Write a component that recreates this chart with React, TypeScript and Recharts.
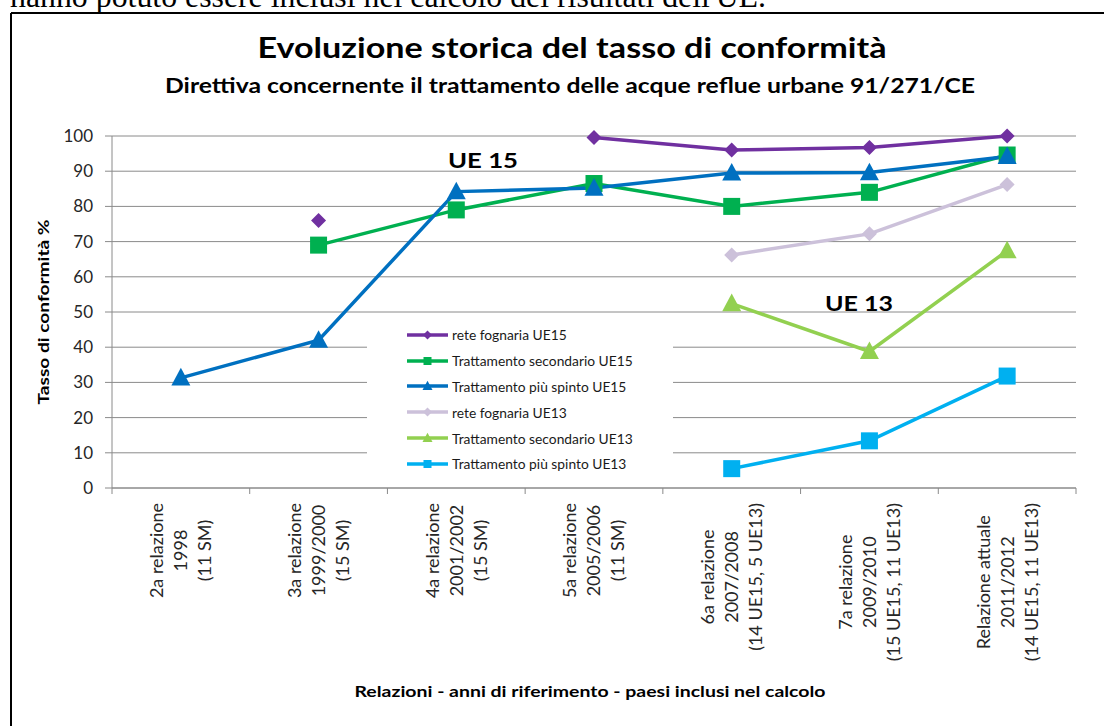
import React from 'react';
import { LineChart, Line, XAxis, YAxis, CartesianGrid, Legend } from 'recharts';

// ---------- data ----------
const categories: string[][] = [
  ['2a relazione', '1998', '(11 SM)'],
  ['3a relazione', '1999/2000', '(15 SM)'],
  ['4a relazione', '2001/2002', '(15 SM)'],
  ['5a relazione', '2005/2006', '(11 SM)'],
  ['6a relazione', '2007/2008', '(14 UE15, 5 UE13)'],
  ['7a relazione', '2009/2010', '(15 UE15, 11 UE13)'],
  ['Relazione attuale', '2011/2012', '(14 UE15, 11 UE13)'],
];

const reteFognariaUE15 = [null, 76, null, 99.6, 96, 96.7, 100];
const trattSecondarioUE15 = [null, 69, 79, 86.5, 80, 84, 94.6];
const trattSpintoUE15 = [31.3, 42, 84.2, 85.2, 89.5, 89.6, 94.2];
const reteFognariaUE13 = [null, null, null, null, 66.2, 72.2, 86.2];
const trattSecondarioUE13 = [null, null, null, null, 52.4, 38.8, 67.4];
const trattSpintoUE13 = [null, null, null, null, 5.5, 13.4, 31.8];

const yTicks = [0, 10, 20, 30, 40, 50, 60, 70, 80, 90, 100];

const seriesNames = [
  'rete fognaria UE15',
  'Trattamento secondario UE15',
  'Trattamento più spinto UE15',
  'rete fognaria UE13',
  'Trattamento secondario UE13',
  'Trattamento più spinto UE13',
];

const titleText = 'Evoluzione storica del tasso di conformità';
const subtitleText = 'Direttiva concernente il trattamento delle acque reflue urbane 91/271/CE';
const yAxisTitle = 'Tasso di conformità %';
const xAxisTitle = 'Relazioni - anni di riferimento - paesi inclusi nel calcolo';
const groupLabelUE15 = 'UE 15';
const groupLabelUE13 = 'UE 13';
const headerText = "hanno potuto essere inclusi nel calcolo dei risultati dell'UE.";

// ---------- styling / layout ----------
type Shape = 'diamond' | 'square' | 'triangle';
const series: { key: string; name: string; values: (number | null)[]; color: string; shape: Shape }[] = [
  { key: 's1', name: seriesNames[0], values: reteFognariaUE15, color: '#7030A0', shape: 'diamond' },
  { key: 's2', name: seriesNames[1], values: trattSecondarioUE15, color: '#00B050', shape: 'square' },
  { key: 's3', name: seriesNames[2], values: trattSpintoUE15, color: '#0070C0', shape: 'triangle' },
  { key: 's4', name: seriesNames[3], values: reteFognariaUE13, color: '#CCC1DA', shape: 'diamond' },
  { key: 's5', name: seriesNames[4], values: trattSecondarioUE13, color: '#92D050', shape: 'triangle' },
  { key: 's6', name: seriesNames[5], values: trattSpintoUE13, color: '#00B0F0', shape: 'square' },
];

const data = categories.map((lines, i) => {
  const row: Record<string, any> = { cat: lines.join('\n') };
  series.forEach((s) => {
    row[s.key] = s.values[i];
  });
  return row;
});

const W = 1104;
const H = 726;
const PLOT_LEFT = 112;
const PLOT_RIGHT = 1076;
const PLOT_TOP = 136;
const PLOT_BOTTOM = 488;
const X_AXIS_H = 30;
const BAND = (PLOT_RIGHT - PLOT_LEFT) / categories.length;
const GRID = '#8a8a8a';
const FONT = 'Lato, "Open Sans", sans-serif';
const TICK_FONT_SIZE = 18;

let ctx: CanvasRenderingContext2D | null = null;
function measure(text: string, font: string): number {
  try {
    if (!ctx) ctx = document.createElement('canvas').getContext('2d');
    if (ctx) {
      ctx.font = font;
      return ctx.measureText(text).width;
    }
  } catch (e) {
    /* ignore */
  }
  return text.length * 9;
}

function Marker({ shape, cx, cy, color, s }: { shape: Shape; cx: number; cy: number; color: string; s: number }) {
  if (shape === 'diamond') {
    return <polygon points={`${cx},${cy - s} ${cx + s},${cy} ${cx},${cy + s} ${cx - s},${cy}`} fill={color} />;
  }
  if (shape === 'square') {
    return <rect x={cx - s} y={cy - s} width={2 * s} height={2 * s} fill={color} />;
  }
  return <polygon points={`${cx},${cy - s * 1.05} ${cx + s},${cy + s * 0.8} ${cx - s},${cy + s * 0.8}`} fill={color} />;
}

const markerSize: Record<Shape, number> = { diamond: 7.5, square: 8.5, triangle: 9.5 };
const legendMarkerSize: Record<Shape, number> = { diamond: 4.5, square: 4, triangle: 5 };

const makeDot = (shape: Shape, color: string) => (props: any) => {
  const { cx, cy, index, value } = props;
  if (cx == null || cy == null || value == null || Number.isNaN(cy)) return <g key={`e${index}`} />;
  return (
    <g key={`d${index}`}>
      <Marker shape={shape} cx={cx} cy={cy} color={color} s={markerSize[shape]} />
    </g>
  );
};

const XTick = (props: any) => {
  const { x, payload, index } = props;
  const lines = String(payload.value).split('\n');
  const font = `${TICK_FONT_SIZE}px Lato`;
  const L = Math.max(...lines.map((l) => measure(l, font)));
  const cy = PLOT_BOTTOM + 15 + L / 2;
  const half = BAND / 2;
  return (
    <g>
      <line x1={x - half} x2={x - half} y1={PLOT_BOTTOM} y2={PLOT_BOTTOM + 6} stroke={GRID} />
      {index === categories.length - 1 && (
        <line x1={x + half} x2={x + half} y1={PLOT_BOTTOM} y2={PLOT_BOTTOM + 6} stroke={GRID} />
      )}
      <text
        transform={`translate(${x},${cy}) rotate(-90)`}
        textAnchor="middle"
        fontFamily={FONT}
        fontSize={TICK_FONT_SIZE}
        fill="#262626"
      >
        {lines.map((l, i) => (
          <tspan key={i} x={0} y={(i - 1) * 24 + TICK_FONT_SIZE * 0.36}>
            {l}
          </tspan>
        ))}
      </text>
    </g>
  );
};

const LegendContent = () => (
  <div style={{ paddingTop: 2, fontFamily: FONT, fontSize: 13.8, color: '#1a1a1a' }}>
    {series.map((s) => (
      <div key={s.key} style={{ display: 'flex', alignItems: 'center', height: 25.8, whiteSpace: 'nowrap' }}>
        <svg width={44} height={14} style={{ marginLeft: 40, flex: 'none' }}>
          <line x1={0} x2={41} y1={7} y2={7} stroke={s.color} strokeWidth={3.5} />
          <Marker shape={s.shape} cx={20.5} cy={7} color={s.color} s={legendMarkerSize[s.shape]} />
        </svg>
        <span style={{ marginLeft: 1 }}>{s.name}</span>
      </div>
    ))}
  </div>
);

export default function App() {
  return (
    <div style={{ position: 'absolute', left: 0, top: 0, width: W, height: H, overflow: 'hidden', background: '#fff' }}>
      <LineChart
        width={W}
        height={H}
        data={data}
        margin={{ top: PLOT_TOP, right: W - PLOT_RIGHT, bottom: H - PLOT_BOTTOM - X_AXIS_H, left: 0 }}
        style={{ position: 'absolute', left: 0, top: 0 }}
      >
        <CartesianGrid horizontal vertical={false} stroke={GRID} strokeWidth={1} />
        <XAxis
          dataKey="cat"
          scale="band"
          height={X_AXIS_H}
          axisLine={{ stroke: GRID }}
          tickLine={false}
          interval={0}
          tick={<XTick />}
        />
        <YAxis
          width={PLOT_LEFT}
          domain={[0, 100]}
          ticks={yTicks}
          interval={0}
          axisLine={{ stroke: GRID }}
          tickLine={{ stroke: GRID }}
          tickSize={7}
          tickMargin={12}
          tick={{ fill: '#262626', fontSize: 17, fontFamily: FONT }}
        />
        <Legend
          layout="vertical"
          align="center"
          verticalAlign="middle"
          wrapperStyle={{ left: 367, top: 320, width: 306, height: 156, background: '#fff' }}
          content={<LegendContent />}
        />
        {series.map((s) => (
          <Line
            key={s.key}
            dataKey={s.key}
            name={s.name}
            type="linear"
            stroke={s.color}
            strokeWidth={3.5}
            dot={makeDot(s.shape, s.color)}
            activeDot={false}
            isAnimationActive={false}
          />
        ))}
      </LineChart>
      <svg
        width={W}
        height={H}
        style={{ position: 'absolute', left: 0, top: 0, pointerEvents: 'none' }}
      >
        <text x={10} y={7} fontFamily='"Liberation Serif", serif' fontSize={32} fill="#000" textLength={756} lengthAdjust="spacingAndGlyphs">
          {headerText}
        </text>
        <line x1={11} y1={13} x2={W} y2={13} stroke="#000" strokeWidth={2} />
        <line x1={11} y1={13} x2={11} y2={H} stroke="#000" strokeWidth={2} />
        <text x={572} y={58} textAnchor="middle" fontFamily={FONT} fontWeight="bold" fontSize={28} fill="#000" textLength={629} lengthAdjust="spacingAndGlyphs">
          {titleText}
        </text>
        <text x={570} y={93} textAnchor="middle" fontFamily={FONT} fontWeight="bold" fontSize={20} fill="#000" textLength={810} lengthAdjust="spacingAndGlyphs">
          {subtitleText}
        </text>
        <text transform="translate(49,312) rotate(-90)" textAnchor="middle" fontFamily={FONT} fontWeight="bold" fontSize={16} fill="#000" textLength={185} lengthAdjust="spacingAndGlyphs">
          {yAxisTitle}
        </text>
        <text x={590} y={697} textAnchor="middle" fontFamily={FONT} fontWeight="bold" fontSize={16} fill="#000" textLength={471} lengthAdjust="spacingAndGlyphs">
          {xAxisTitle}
        </text>
        <text x={483} y={168} textAnchor="middle" fontFamily={FONT} fontWeight="bold" fontSize={21} fill="#000" textLength={70} lengthAdjust="spacingAndGlyphs">
          {groupLabelUE15}
        </text>
        <text x={859} y={311} textAnchor="middle" fontFamily={FONT} fontWeight="bold" fontSize={21} fill="#000" textLength={68} lengthAdjust="spacingAndGlyphs">
          {groupLabelUE13}
        </text>
      </svg>
    </div>
  );
}
